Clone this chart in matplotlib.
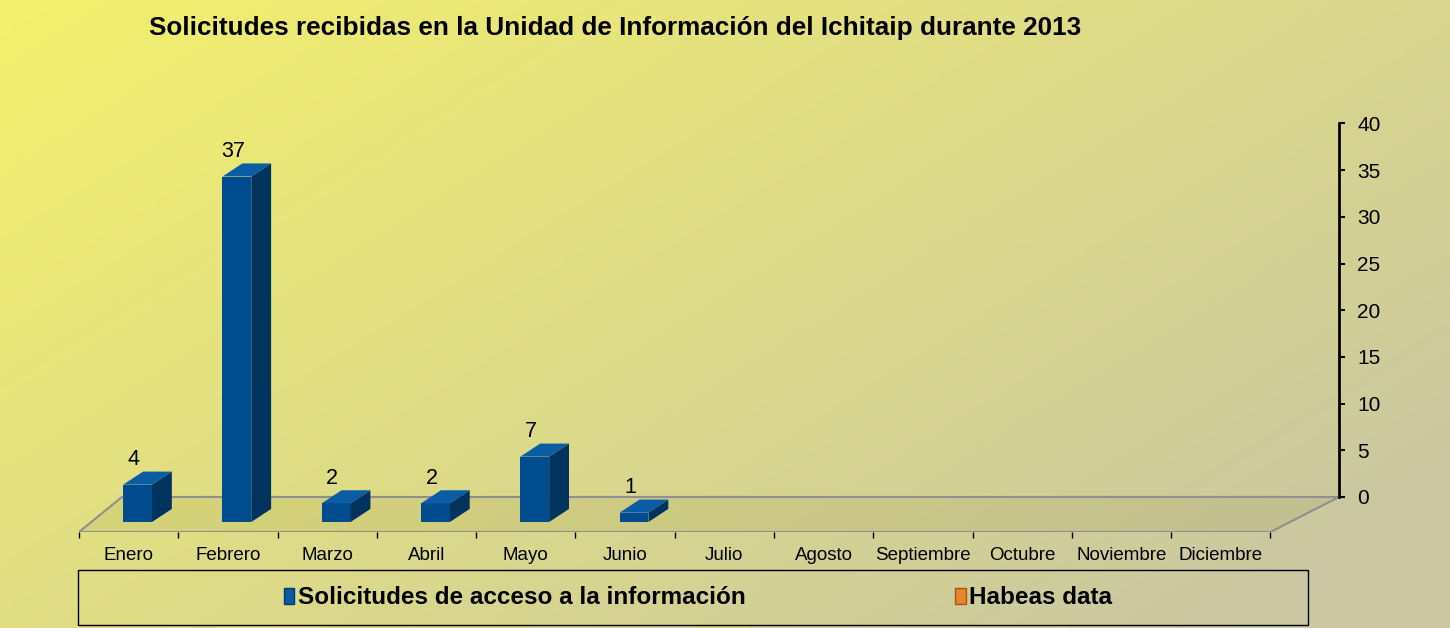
import numpy as np
import matplotlib
matplotlib.use("Agg")
import matplotlib.pyplot as plt
from matplotlib.patches import Polygon, Patch, Rectangle

plt.rcParams['font.family'] = ['Liberation Sans', 'DejaVu Sans']

# Datos
meses = ['Enero', 'Febrero', 'Marzo', 'Abril', 'Mayo', 'Junio', 'Julio',
         'Agosto', 'Septiembre', 'Octubre', 'Noviembre', 'Diciembre']
solicitudes = [4, 37, 2, 2, 7, 1, None, None, None, None, None, None]
habeas = [None] * 12
yticks = [0, 5, 10, 15, 20, 25, 30, 35, 40]

titulo = 'Solicitudes recibidas en la Unidad de Información del Ichitaip durante 2013'

# parametros de la "perspectiva"
prof = 3.75      # desplazamiento vertical del fondo del piso
base = 1.07      # base frontal de las barras
ancho = 0.29
off = 0.09
ddx, ddy = 0.2, 1.4

azul, azul_lado, azul_top = '#004C8E', '#00345F', '#0A5CA3'

fig = plt.figure(figsize=(14.5, 6.28), dpi=100)

# fondo degradado
bg = fig.add_axes([0, 0, 1, 1], zorder=-10)
gx, gy = np.meshgrid(np.linspace(0, 1, 300), np.linspace(0, 1, 130))
t = np.clip(0.65 * gx + 0.45 * gy, 0, 1)[..., None]
c0 = np.array([243, 241, 108]) / 255
c1 = np.array([202, 199, 162]) / 255
bg.imshow(c0 * (1 - t) + c1 * t, aspect='auto', extent=[0, 1, 1, 0])
bg.axis('off')

ax = fig.add_axes([79 / 1450, 1 - 532 / 628, (1339 - 79) / 1450, (532 - 123) / 628])
ax.set_xlim(-0.5, 12.19)
ax.set_ylim(0, 43.8)
ax.patch.set_alpha(0)

# piso
piso = Polygon([(-0.5, 0), (11.5, 0), (12.19, prof), (-0.067, prof)],
               closed=True, facecolor=(0.45, 0.43, 0.1, 0.1),
               edgecolor='#8f8f8f', linewidth=1.5)
ax.add_patch(piso)

# barras
x = np.arange(len(meses))
for i, v in enumerate(solicitudes):
    if v is None:
        continue
    x0 = i + off - ancho / 2
    x1 = i + off + ancho / 2
    ax.bar(x0, v, width=ancho, bottom=base, align='edge', color=azul, zorder=3)
    lado = [(x1, base), (x1 + ddx, base + ddy), (x1 + ddx, base + v + ddy), (x1, base + v)]
    tapa = [(x0, base + v), (x0 + ddx, base + v + ddy), (x1 + ddx, base + v + ddy), (x1, base + v)]
    ax.add_patch(Polygon(lado, closed=True, facecolor=azul_lado, edgecolor='none', zorder=3))
    ax.add_patch(Polygon(tapa, closed=True, facecolor=azul_top, edgecolor='none', zorder=3))
    ax.text(i + 0.05, base + v + 2.7, str(v), ha='center', va='center', fontsize=15.5, zorder=4)

# eje x
ax.set_xticks(np.arange(-0.5, 12, 1))
ax.set_xticklabels([])
ax.set_xticks(x, minor=True)
ax.set_xticklabels(meses, minor=True, fontsize=13.5)
ax.tick_params(axis='x', which='major', length=4, width=1, color='black', direction='out')
ax.tick_params(axis='x', which='minor', length=0, pad=11)

# eje y a la derecha (pared del fondo)
ax.yaxis.tick_right()
ax.set_yticks([prof + v for v in yticks])
ax.set_yticklabels([str(v) for v in yticks], fontsize=15)
ax.tick_params(axis='y', length=4, width=1.5, direction='out', pad=9)
ax.spines['right'].set_bounds(prof, prof + 40)
ax.spines['right'].set_linewidth(2)
for s in ['left', 'top', 'bottom']:
    ax.spines[s].set_visible(False)

fig.text(615 / 1450, 1 - 28 / 628, titulo, ha='center', va='center',
         fontsize=18.8, fontweight='bold')

# leyenda
fig.patches.append(Rectangle((78 / 1450, 1 - 625 / 628), (1308 - 78) / 1450, 55 / 628,
                             transform=fig.transFigure, fill=False,
                             edgecolor='black', linewidth=1))
handles = [Patch(facecolor='#0B5A9E', edgecolor='#003A70'),
           Patch(facecolor='#E8842C', edgecolor='#A85510')]
fig.legend(handles, ['Solicitudes de acceso a la información', 'Habeas data'],
           loc='center', bbox_to_anchor=(698 / 1450, 1 - 598 / 628), ncol=2,
           frameon=False, prop={'weight': 'bold', 'size': 17.5},
           handlelength=0.45, handleheight=0.65, handletextpad=0.15,
           columnspacing=8.6)

fig.savefig('out.png', dpi=100)
